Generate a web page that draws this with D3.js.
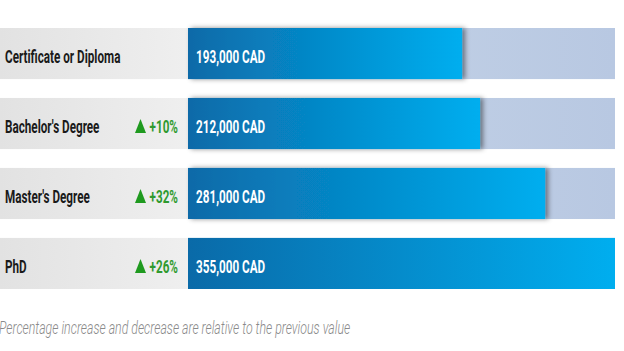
<!DOCTYPE html>
<html>
<head>
<meta charset="utf-8">
<script src="https://cdn.jsdelivr.net/npm/d3@7"></script>
<style>
  html, body { margin: 0; padding: 0; background: #fff; overflow: hidden; }
  svg { display: block; }
  .lbl { font-family: Roboto, "Noto Sans", sans-serif; font-weight: bold; }
</style>
</head>
<body>
<div id="chart"></div>
<script>
// ---- Data ----
const categories = ["Certificate or Diploma", "Bachelor's Degree", "Master's Degree", "PhD"];
const salaries = [193000, 212000, 281000, 355000];
const changes = [null, 10, 32, 26];   // % vs previous row
const note = "Percentage increase and decrease are relative to the previous value";

const W = 624, H = 351;
const SX = 0.65;   // the source art is squeezed horizontally
const svg = d3.select("#chart").append("svg").attr("width", W).attr("height", H);
const defs = svg.append("defs");

// ---- Gradients / shadow ----
const gLabel = defs.append("linearGradient").attr("id", "gLabel");
gLabel.append("stop").attr("offset", "0%").attr("stop-color", "#e2e2e2");
gLabel.append("stop").attr("offset", "100%").attr("stop-color", "#efefef");

const gTrack = defs.append("linearGradient").attr("id", "gTrack");
gTrack.append("stop").attr("offset", "0%").attr("stop-color", "#c8d6e8");
gTrack.append("stop").attr("offset", "100%").attr("stop-color", "#b8c8e2");

const gBar = defs.append("linearGradient").attr("id", "gBar");
gBar.append("stop").attr("offset", "0%").attr("stop-color", "#0a6aa8");
gBar.append("stop").attr("offset", "100%").attr("stop-color", "#00aeef");

const shadow = defs.append("filter").attr("id", "shadow")
  .attr("x", "-5%").attr("y", "-10%").attr("width", "115%").attr("height", "120%");
shadow.append("feDropShadow").attr("dx", 3).attr("dy", 0)
  .attr("stdDeviation", 2.5).attr("flood-color", "#000").attr("flood-opacity", 0.45);

// ---- Scales ----
const panelX0 = 0, barX0 = 188, barX1 = 615;
const y = d3.scaleBand().domain(categories).range([28, 289]).paddingInner(0.27).paddingOuter(0);
const x = d3.scaleLinear().domain([0, d3.max(salaries)]).range([280, barX1]);

const rows = svg.selectAll("g.row")
  .data(categories.map((c, i) => ({ c, v: salaries[i], ch: changes[i] })))
  .join("g").attr("class", "row")
  .attr("transform", d => `translate(0,${y(d.c)})`);

const bh = y.bandwidth();
const base = bh / 2 + 9.5;

rows.append("rect").attr("x", panelX0).attr("width", barX0 - panelX0).attr("height", bh)
  .attr("fill", "url(#gLabel)");
rows.append("rect").attr("x", barX0).attr("width", barX1 - barX0).attr("height", bh)
  .attr("fill", "url(#gTrack)");
rows.append("rect").attr("x", barX0).attr("width", d => x(d.v) - barX0).attr("height", bh)
  .attr("fill", "url(#gBar)").attr("filter", d => x(d.v) < barX1 - 1 ? "url(#shadow)" : null);

rows.append("text").attr("class", "lbl")
  .attr("transform", `translate(5,${base}) scale(${SX},1)`)
  .attr("font-size", 18).attr("fill", "#1a1a1a")
  .text(d => d.c);

rows.append("text").attr("class", "lbl")
  .attr("transform", `translate(${barX0 + 8},${base}) scale(${SX},1)`)
  .attr("font-size", 18).attr("fill", "#fff")
  .text(d => d3.format(",")(d.v) + " CAD");

const up = rows.filter(d => d.ch != null);
up.append("path")
  .attr("d", `M135,${base} L140.5,${base - 14} L146,${base} Z`)
  .attr("fill", "#1f9a1f");
up.append("text").attr("class", "lbl")
  .attr("transform", `translate(178,${base}) scale(${SX},1)`)
  .attr("text-anchor", "end")
  .attr("font-size", 18).attr("fill", "#2f9a2f")
  .text(d => "+" + d.ch + "%");

// ---- Footnote ----
svg.append("text")
  .attr("transform", `translate(-1,334) scale(${SX},1)`)
  .attr("font-family", "Roboto, sans-serif")
  .attr("font-style", "italic").attr("font-weight", 300)
  .attr("font-size", 19).attr("fill", "#8a8a8a")
  .text(note);
</script>
</body>
</html>
